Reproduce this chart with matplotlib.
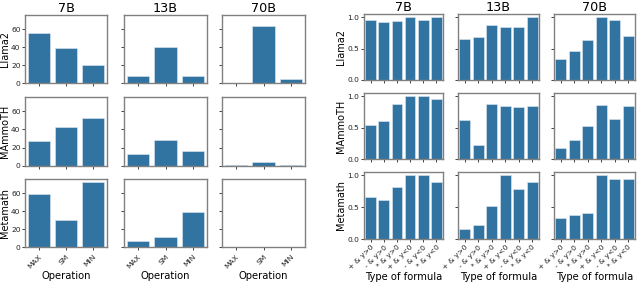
import matplotlib
matplotlib.use("Agg")
import matplotlib.pyplot as plt
import numpy as np

models = ["Llama2", "MAmmoTH", "Metamath"]
sizes = ["7B", "13B", "70B"]
operations = ["MAX", "SM", "MIN"]
formulas = ["+ & y>0", "- & y>0", "* & y>0", "+ & y<0", "- & y<0", "* & y<0"]

# Left grid: accuracy (%) by operation
llama2_op = [[56, 39, 20], [8, 40, 8], [0, 63, 5]]
mammoth_op = [[27, 43, 53], [13, 28, 16], [1, 4, 1]]
metamath_op = [[59, 30, 72], [7, 11, 39], [0, 0, 0]]

# Right grid: accuracy by type of formula
llama2_f = [[0.96, 0.92, 0.94, 1.0, 0.95, 1.0],
            [0.66, 0.69, 0.88, 0.85, 0.84, 1.0],
            [0.33, 0.46, 0.64, 1.0, 0.95, 0.70]]
mammoth_f = [[0.54, 0.61, 0.88, 1.0, 1.0, 0.95],
             [0.62, 0.23, 0.88, 0.85, 0.83, 0.85],
             [0.17, 0.31, 0.53, 0.86, 0.63, 0.85]]
metamath_f = [[0.66, 0.61, 0.82, 1.0, 1.0, 0.90],
              [0.16, 0.22, 0.52, 1.0, 0.78, 0.89],
              [0.33, 0.38, 0.41, 1.0, 0.94, 0.94]]

left_data = [llama2_op, mammoth_op, metamath_op]
right_data = [llama2_f, mammoth_f, metamath_f]

W, H = 640, 283
fig = plt.figure(figsize=(W / 100, H / 100), dpi=100)
BAR = "#3274a1"
SPINE = "#808080"

def px_axes(x0, x1, y0, y1, **kw):
    return fig.add_axes([x0 / W, 1 - y1 / H, (x1 - x0) / W, (y1 - y0) / H], **kw)

def style(ax):
    for s in ax.spines.values():
        s.set_color(SPINE)
        s.set_linewidth(1.0)
    ax.tick_params(axis="both", labelsize=5.4, length=2, width=0.6, pad=1.2, colors="#222222")

left_cols = [(25, 107), (124, 207), (222, 305)]
left_rows = [(15, 83), (97, 166), (179, 247)]
right_cols = [(364, 443), (458, 539), (554, 635)]
right_rows = [(14, 80), (93, 159), (172, 239)]

def grid(cols, rows, data, cats, xlabel, yticks, ytl, ylab_x, rot_pad):
    first = None
    for r, (y0, y1) in enumerate(rows):
        for c, (x0, x1) in enumerate(cols):
            ax = px_axes(x0, x1, y0, y1, sharey=first)
            if first is None:
                first = ax
            style(ax)
            x = np.arange(len(cats))
            ax.bar(x, data[r][c], width=0.8, color=BAR, edgecolor="#dfe9f2", linewidth=0.4)
            ax.set_xlim(-0.5, len(cats) - 0.5)
            ax.set_xticks(x)
            if r == 2:
                ax.set_xticklabels(cats, rotation=45, ha="right", rotation_mode="anchor")
                ax.tick_params(axis="x", pad=rot_pad)
                ax.set_xlabel(xlabel, fontsize=7.2, labelpad=1)
            else:
                ax.set_xticklabels([])
            ax.set_yticks(yticks)
            if c == 0:
                ax.set_yticklabels(ytl)
                ax.set_ylabel(models[r], fontsize=7.0)
                ax.yaxis.set_label_coords(ylab_x, 0.5)
            else:
                ax.tick_params(axis="y", labelleft=False)
            if r == 0:
                ax.set_title(sizes[c], fontsize=9.2, pad=1.5)

grid(left_cols, left_rows, left_data, operations, "Operation", [0, 20, 40, 60],
     ["0", "20", "40", "60"], -0.18, 2.5)
grid(right_cols, right_rows, right_data, formulas, "Type of formula", [0.0, 0.5, 1.0],
     ["0.0", "0.5", "1.0"], -0.23, 1.5)

fig.savefig("out.png", dpi=100)
